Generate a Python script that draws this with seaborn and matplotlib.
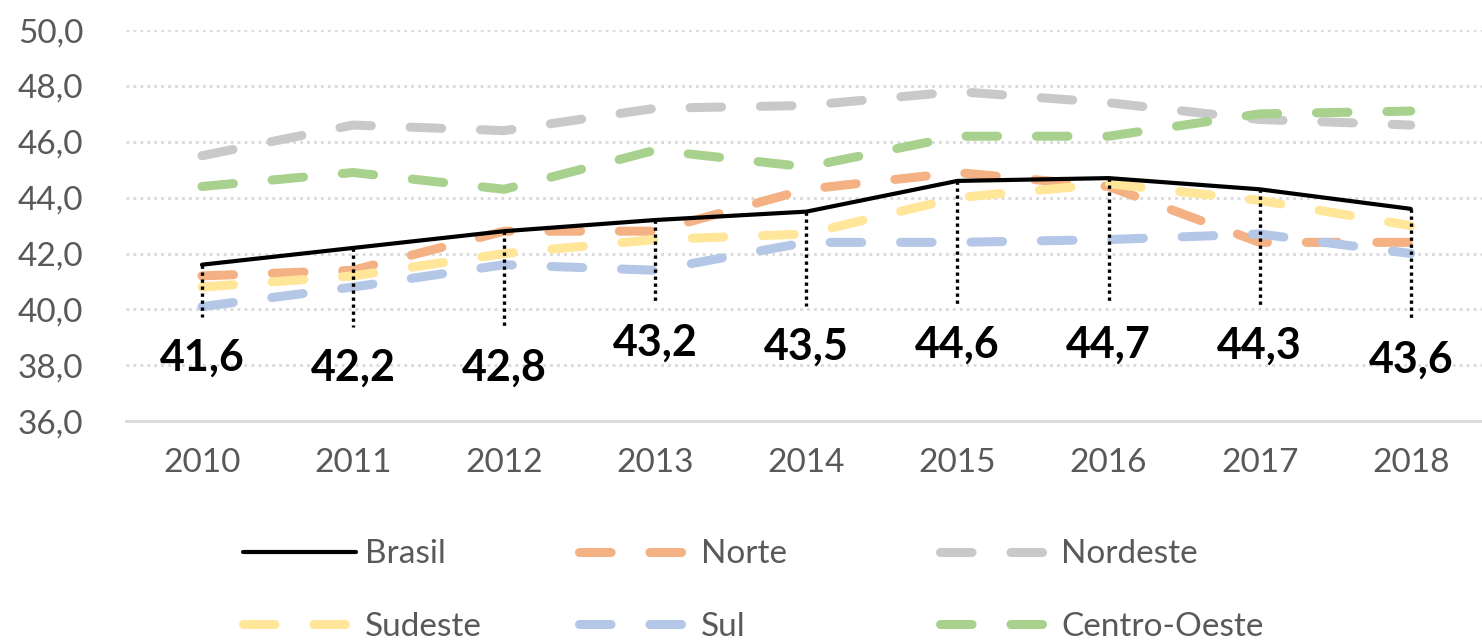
import numpy as np
import pandas as pd
import matplotlib
matplotlib.use("Agg")
import matplotlib.pyplot as plt
import seaborn as sns
from matplotlib.ticker import FuncFormatter

# dados
anos = ["2010", "2011", "2012", "2013", "2014", "2015", "2016", "2017", "2018"]
brasil = [41.6, 42.2, 42.8, 43.2, 43.5, 44.6, 44.7, 44.3, 43.6]
norte = [41.2, 41.4, 42.8, 42.8, 44.3, 44.9, 44.4, 42.4, 42.4]
nordeste = [45.5, 46.6, 46.4, 47.2, 47.3, 47.8, 47.4, 46.8, 46.6]
sudeste = [40.8, 41.2, 42.0, 42.5, 42.7, 44.0, 44.5, 43.9, 43.0]
sul = [40.1, 40.8, 41.6, 41.4, 42.4, 42.4, 42.5, 42.7, 42.0]
centro_oeste = [44.4, 44.9, 44.3, 45.7, 45.1, 46.2, 46.2, 47.0, 47.1]

regioes = ["Brasil", "Norte", "Nordeste", "Sudeste", "Sul", "Centro-Oeste"]
valores = [brasil, norte, nordeste, sudeste, sul, centro_oeste]
cores = {"Brasil": "#000000", "Norte": "#F4B183", "Nordeste": "#C9C9C9",
         "Sudeste": "#FFE699", "Sul": "#B4C7E7", "Centro-Oeste": "#A9D18E"}

# altura (em unidades do eixo) onde ficam os rotulos do Brasil
rotulo_y = [38.27, 37.91, 37.93, 38.82, 38.68, 38.75, 38.75, 38.71, 38.2]

df = pd.DataFrame({
    "Ano": anos * len(regioes),
    "Regiao": np.repeat(regioes, len(anos)),
    "Valor": np.concatenate(valores),
})

sns.set_style("white")
plt.rcParams["font.family"] = ["Lato", "DejaVu Sans"]

fig = plt.figure(figsize=(14.82, 6.4), dpi=100)
ax = fig.add_axes([0.0853, 0.342, 0.9176, 0.611])

linhas = {}
for nome in regioes:
    sub = df[df["Regiao"] == nome]
    if nome == "Brasil":
        sns.lineplot(data=sub, x="Ano", y="Valor", ax=ax, color=cores[nome],
                     linewidth=3, sort=False, legend=False,
                     solid_capstyle="round", zorder=3)
    else:
        sns.lineplot(data=sub, x="Ano", y="Valor", ax=ax, color=cores[nome],
                     linewidth=6.5, sort=False, legend=False,
                     linestyle=(0, (3.5, 4.3)), dash_capstyle="round",
                     zorder=2)
    linhas[nome] = ax.lines[-1]

# linhas pontilhadas e rotulos de valor do Brasil
for i, v in enumerate(brasil):
    ax.plot([i, i], [v, rotulo_y[i] + 1.45], color="black", lw=2.4,
            linestyle=(0, (1, 1.1)), zorder=4)
    ax.text(i, rotulo_y[i], f"{v:.1f}".replace(".", ","), ha="center",
            va="center", fontsize=31, fontweight="bold", color="black")

ax.set_xlim(-0.5, 8.5)
ax.set_ylim(36, 50)
ax.set_yticks(np.arange(36, 51, 2))
ax.yaxis.set_major_formatter(FuncFormatter(lambda y, _: f"{y:.1f}".replace(".", ",")))
ax.set_xlabel("")
ax.set_ylabel("")

ax.yaxis.grid(True, linestyle=(0, (1, 1.5)), color="#D9D9D9", lw=2)
ax.xaxis.grid(False)
ax.set_axisbelow(True)
for s in ["top", "left", "right"]:
    ax.spines[s].set_visible(False)
ax.spines["bottom"].set_color("#D9D9D9")
ax.spines["bottom"].set_linewidth(2)

ax.tick_params(axis="y", length=0, labelsize=24, labelcolor="#595959", pad=31)
ax.tick_params(axis="x", length=0, labelsize=24, labelcolor="#595959", pad=19)

# legenda em tres colunas
colunas = [("Brasil", "Sudeste"), ("Norte", "Sul"), ("Nordeste", "Centro-Oeste")]
xs = [0.164, 0.391, 0.634]
for (a, b), x in zip(colunas, xs):
    fig.legend([linhas[a], linhas[b]], [a, b], loc="center left",
               bbox_to_anchor=(x, 0.077), frameon=False, fontsize=24,
               labelcolor="#595959", handlelength=3.4, handletextpad=0.25,
               labelspacing=1.28, borderpad=0, borderaxespad=0)

fig.savefig("out.png", dpi=100)
